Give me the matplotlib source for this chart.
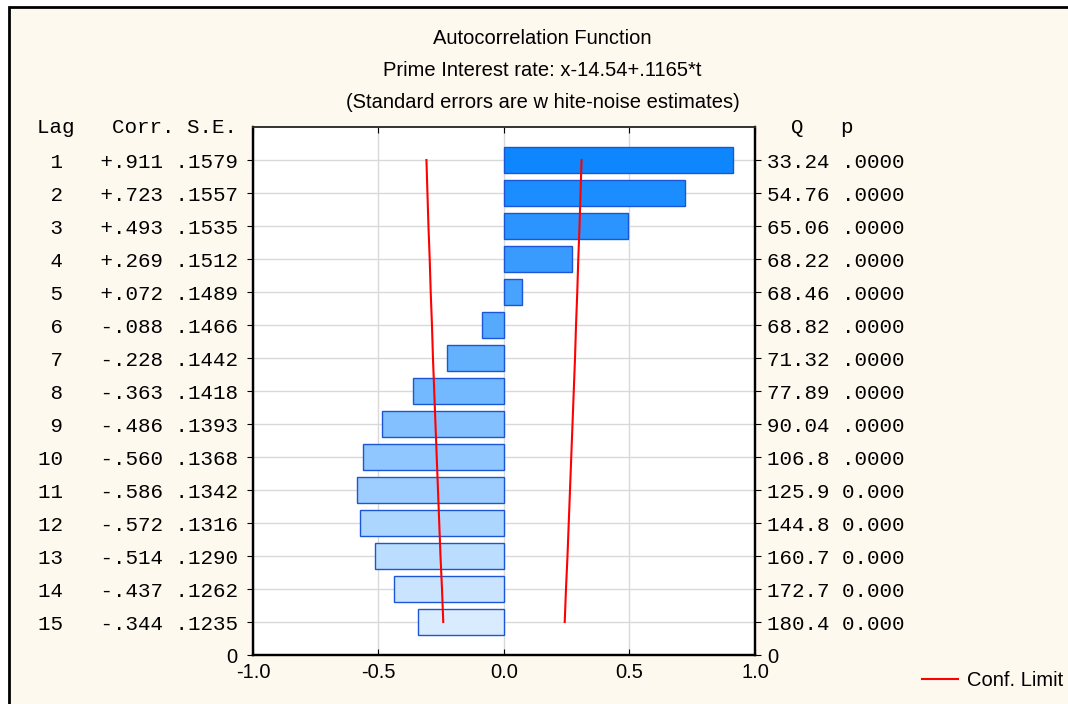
import matplotlib.pyplot as plt
import matplotlib.patches as mpatches
from matplotlib.colors import LinearSegmentedColormap

# ACF values
lags = [1, 2, 3, 4, 5, 6, 7, 8, 9, 10, 11, 12, 13, 14, 15]
corr = [.911, .723, .493, .269, .072, -.088, -.228, -.363, -.486, -.560, -.586, -.572, -.514, -.437, -.344]
corr_txt = ['+.911', '+.723', '+.493', '+.269', '+.072', '-.088', '-.228', '-.363',
            '-.486', '-.560', '-.586', '-.572', '-.514', '-.437', '-.344']
se_txt = ['.1579', '.1557', '.1535', '.1512', '.1489', '.1466', '.1442', '.1418',
          '.1393', '.1368', '.1342', '.1316', '.1290', '.1262', '.1235']
q_txt = ['33.24', '54.76', '65.06', '68.22', '68.46', '68.82', '71.32', '77.89',
         '90.04', '106.8', '125.9', '144.8', '160.7', '172.7', '180.4']
p_txt = ['.0000'] * 10 + ['0.000'] * 5
conf_limit = [.309, .305, .301, .296, .292, .287, .283, .278, .273, .268, .263, .258, .253, .247, .242]

cream = '#FEF9EE'
mono = 'Liberation Mono'
sans = 'Liberation Sans'
fs_mono = 15
fs_sans = 14.5

fig = plt.figure(figsize=(10.68, 7.04), dpi=100)
fig.patch.set_facecolor('white')
# outer panel with black frame
fig.patches.append(mpatches.Rectangle((0.0088, -0.1), 1.2, 1.09, transform=fig.transFigure,
                                      facecolor=cream, edgecolor='black', lw=2, zorder=-10))

ax = fig.add_axes([0.2369, 0.0696, 0.4700, 0.7500])
ax.set_facecolor('white')

ypos = [16 - l for l in lags]
cmap = LinearSegmentedColormap.from_list('acf', ['#0E86FE', '#D8EBFF'])
colors = [cmap(i / (len(lags) - 1)) for i in range(len(lags))]

ax.barh(ypos, corr, height=0.8, color=colors, edgecolor='#1A56D6', linewidth=1, zorder=3)
ax.plot(conf_limit, ypos, color='red', lw=1.5, zorder=4, label='Conf. Limit')
ax.plot([-c for c in conf_limit], ypos, color='red', lw=1.5, zorder=4)

ax.set_xlim(-1, 1)
ax.set_ylim(0, 16)
ax.set_xticks([-1.0, -0.5, 0.0, 0.5, 1.0])
ax.set_xticklabels(['-1.0', '-0.5', '0.0', '0.5', '1.0'], fontfamily=sans, fontsize=fs_sans)
ax.tick_params(axis='x', direction='in', length=4, pad=6, top=True)

left_labels = ['0'] + ['%2d   %s %s' % (l, c, s) for l, c, s in zip(lags, corr_txt, se_txt)][::-1]
ax.set_yticks(range(0, 16))
ax.set_yticklabels(left_labels, fontfamily=mono, fontsize=fs_mono)
ax.tick_params(axis='y', direction='out', length=4, pad=7)
ax.get_yticklabels()[0].set_fontfamily(sans)
ax.get_yticklabels()[0].set_fontsize(fs_sans)

ax2 = ax.twinx()
ax2.set_ylim(0, 16)
right_labels = ['0'] + ['%s %s' % (q, p) for q, p in zip(q_txt, p_txt)][::-1]
ax2.set_yticks(range(0, 16))
ax2.set_yticklabels(right_labels, fontfamily=mono, fontsize=fs_mono)
ax2.tick_params(axis='y', direction='out', length=4, pad=5)
ax2.get_yticklabels()[0].set_fontfamily(sans)
ax2.get_yticklabels()[0].set_fontsize(fs_sans)

# column headers
ax.text(-0.031, 16, 'Lag   Corr. S.E.', transform=ax.get_yaxis_transform(),
        ha='right', va='center', fontfamily=mono, fontsize=fs_mono)
ax.text(1.022, 16, '  Q   p', transform=ax.get_yaxis_transform(),
        ha='left', va='center', fontfamily=mono, fontsize=fs_mono)

ax.grid(True, color='#D9D9D9', lw=1, zorder=0)
ax.set_axisbelow(True)
for a in (ax, ax2):
    for side in ['left', 'right', 'bottom']:
        a.spines[side].set_linewidth(1.6)
        a.spines[side].set_color('black')
    a.spines['top'].set_linewidth(1.2)
    a.spines['top'].set_color('#333333')

fig.text(0.508, 0.946, 'Autocorrelation Function', ha='center', va='center', fontfamily=sans, fontsize=fs_sans)
fig.text(0.508, 0.900, 'Prime Interest rate: x-14.54+.1165*t', ha='center', va='center', fontfamily=sans, fontsize=fs_sans)
fig.text(0.508, 0.855, '(Standard errors are w hite-noise estimates)', ha='center', va='center', fontfamily=sans, fontsize=fs_sans)

fig.legend(loc='center left', bbox_to_anchor=(922 / 1068, 1 - 681 / 704), frameon=False,
           handlelength=1.8, handletextpad=0.45, borderpad=0, borderaxespad=0,
           prop={'family': sans, 'size': fs_sans})

fig.savefig('out.png', dpi=100, facecolor=fig.get_facecolor())
